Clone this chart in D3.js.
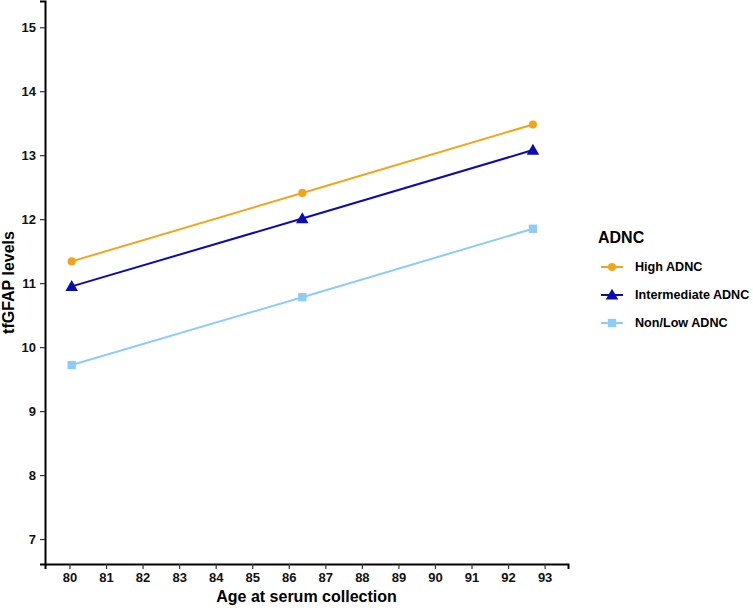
<!DOCTYPE html>
<html>
<head>
<meta charset="utf-8">
<script src="https://cdn.jsdelivr.net/npm/d3@7"></script>
<style>
  html, body { margin: 0; padding: 0; background: #fff; }
  svg { display: block; font-family: "Liberation Sans", Arial, sans-serif; }
</style>
</head>
<body>
<svg id="chart" width="753" height="608"></svg>
<script>
// Data
const ages = [80.06, 86.37, 92.68];
const seriesNames = ["High ADNC", "Intermediate ADNC", "Non/Low ADNC"];
const highADNC = [11.34, 12.41, 13.48];
const intermediateADNC = [10.95, 12.01, 13.08];
const nonLowADNC = [9.72, 10.78, 11.85];
const xTicks = [80, 81, 82, 83, 84, 85, 86, 87, 88, 89, 90, 91, 92, 93];
const yTicks = [7, 8, 9, 10, 11, 12, 13, 14, 15];
const colors = ["#F3A51A", "#0B0BB0", "#8DCDF5"];
const shapes = [d3.symbolCircle, d3.symbolTriangle, d3.symbolSquare];
const shapeSizes = [52, 68, 70];

const seriesValues = [highADNC, intermediateADNC, nonLowADNC];

const svg = d3.select("#chart");
const pLeft = 45, pRight = 568, pTop = 1, pBottom = 564;

const x = d3.scaleLinear().domain([79.33, 93.64]).range([pLeft, pRight]);
const y = d3.scaleLinear().domain([6.61, 15.41]).range([pBottom, pTop]);

// Axes
const xAxis = svg.append("g")
  .attr("transform", `translate(0,${pBottom})`)
  .call(d3.axisBottom(x).tickValues(xTicks).tickFormat(d3.format("d")).tickSizeOuter(0).tickSize(5).tickPadding(4));
const yAxis = svg.append("g")
  .attr("transform", `translate(${pLeft},0)`)
  .call(d3.axisLeft(y).tickValues(yTicks).tickFormat(d3.format("d")).tickSizeOuter(0).tickSize(5).tickPadding(4));

[xAxis, yAxis].forEach(g => {
  g.select(".domain").attr("stroke", "#000").attr("stroke-width", 2);
  g.selectAll(".tick line").attr("stroke", "#333").attr("stroke-width", 1.2);
  g.selectAll(".tick text").attr("fill", "#111").attr("font-size", 13)
    .attr("font-weight", "bold").attr("font-family", "Liberation Sans, Arial, sans-serif");
});

// Axis titles
svg.append("text")
  .attr("x", (pLeft + pRight) / 2).attr("y", 602)
  .attr("text-anchor", "middle").attr("font-size", 16).attr("font-weight", "bold")
  .attr("fill", "#000").text("Age at serum collection");
svg.append("text")
  .attr("transform", `translate(14,${(pTop + pBottom) / 2}) rotate(-90)`)
  .attr("text-anchor", "middle").attr("font-size", 16).attr("font-weight", "bold")
  .attr("fill", "#000").text("tfGFAP levels");

// Lines and points
const line = d3.line().x((d, i) => x(ages[i])).y(d => y(d));
seriesValues.forEach((vals, s) => {
  svg.append("path").datum(vals)
    .attr("d", line).attr("fill", "none")
    .attr("stroke", colors[s]).attr("stroke-width", 2);
  svg.selectAll(null).data(vals).enter().append("path")
    .attr("d", d3.symbol().type(shapes[s]).size(shapeSizes[s]))
    .attr("transform", (d, i) => `translate(${x(ages[i])},${y(d) + (s === 1 ? 1 : 0)})`)
    .attr("fill", colors[s]);
});

// Legend
const lg = svg.append("g");
lg.append("text").attr("x", 598).attr("y", 243).attr("font-size", 16)
  .attr("font-weight", "bold").attr("fill", "#000").text("ADNC");
seriesNames.forEach((name, s) => {
  const cy = 267 + s * 28;
  lg.append("line").attr("x1", 601).attr("x2", 623).attr("y1", cy).attr("y2", cy)
    .attr("stroke", colors[s]).attr("stroke-width", 2);
  lg.append("path").attr("d", d3.symbol().type(shapes[s]).size(shapeSizes[s]))
    .attr("transform", `translate(612,${cy + (s === 1 ? 1 : 0)})`).attr("fill", colors[s]);
  lg.append("text").attr("x", 635).attr("y", cy).attr("dy", "0.35em")
    .attr("font-size", 12.6).attr("font-weight", "bold").attr("fill", "#000").text(name);
});
</script>
</body>
</html>
